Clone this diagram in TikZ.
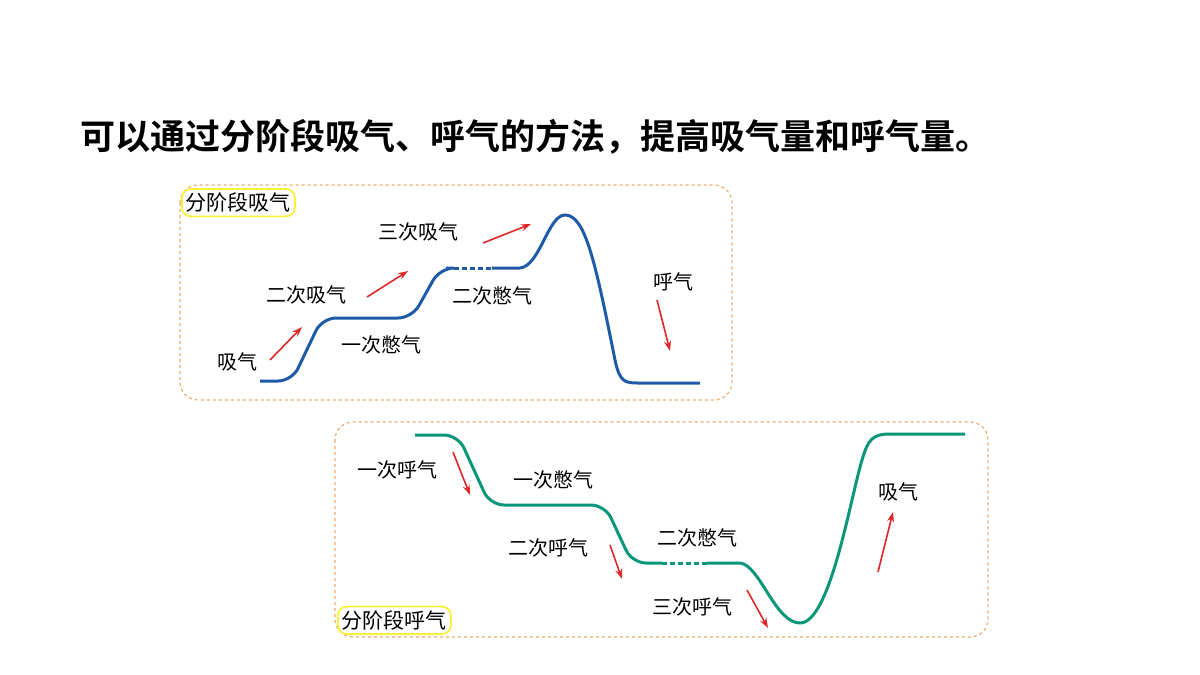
\documentclass[tikz,border=0pt]{standalone}
\usepackage{fontspec}
\newfontfamily\cjk{Noto Sans CJK SC}
\newfontfamily\cjkb{Noto Sans CJK SC}[UprightFont=* Bold]
\usetikzlibrary{arrows.meta}
\definecolor{boxorange}{RGB}{240,170,110}
\definecolor{tagyellow}{RGB}{250,240,60}
\definecolor{inblue}{RGB}{30,90,165}
\definecolor{outgreen}{RGB}{10,150,120}
\definecolor{arrred}{RGB}{220,40,40}
\tikzset{every picture/.style={line width=0.75pt}}
\tikzset{
  panel/.style={draw=boxorange, dashed, rounded corners=18pt, line width=1.2pt},
  tag/.style={draw=tagyellow, rounded corners=9pt, line width=1.8pt, fill=white, inner sep=4pt, font=\cjk\fontsize{21}{21}\selectfont},
  lbl/.style={font=\cjk\fontsize{20}{20}\selectfont},
  redarr/.style={draw=arrred, line width=1.6pt, -{Stealth[length=10pt,width=7pt]}},
  curve/.style={line width=3pt, rounded corners=14pt},
  dashcurve/.style={line width=3pt, dash pattern=on 5pt off 3pt}
}
\begin{document}
\begin{tikzpicture}[x=1pt,y=1pt,yscale=-1]
\useasboundingbox (0,0) rectangle (1200,675);

% Title
\node[font=\cjkb\fontsize{35}{35}\selectfont, anchor=west, inner sep=0pt] (title) at (80,137) {可以通过分阶段吸气、呼气的方法，提高吸气量和呼气量。};

% inhaling panel
\draw[panel] (180,185) rectangle (732,400);
\node[tag, anchor=north west] (intag) at (181,188) {分阶段吸气};
\draw[curve, inblue] (260,381) -- (292,381) -- (322,318) -- (412,318) -- (440,268) -- (446,268);
\draw[inblue, dashcurve] (446,268) -- (492,268);
\draw[inblue, line width=3pt] (492,268) -- (520,268) .. controls (540,266) and (548,215) .. (565,215) .. controls (585,215) and (595,260) .. (615,360) .. controls (620,383) and (625,383) .. (640,383) -- (700,383);
\node[lbl] (i1) at (237,362) {吸气};
\node[lbl] (i2) at (306,295) {二次吸气};
\node[lbl] (i3) at (418,232) {三次吸气};
\node[lbl] (h1) at (381,345) {一次憋气};
\node[lbl] (h2) at (492,296) {二次憋气};
\node[lbl] (ex) at (673,282) {呼气};
\coordinate (a1s) at (270,360); \coordinate (a1e) at (302,327);
\coordinate (a2s) at (367,297); \coordinate (a2e) at (408,271);
\coordinate (a3s) at (483,243); \coordinate (a3e) at (531,224);
\coordinate (a4s) at (657,300); \coordinate (a4e) at (670,351);
\draw[redarr] (a1s) -- (a1e);
\draw[redarr] (a2s) -- (a2e);
\draw[redarr] (a3s) -- (a3e);
\draw[redarr] (a4s) -- (a4e);

% exhaling panel
\draw[panel] (335,422) rectangle (988,637);
\node[tag, anchor=south west] (outtag) at (337,635) {分阶段呼气};
\draw[curve, outgreen] (415,435) -- (458,435) -- (490,505) -- (605,505) -- (632,563) -- (662,563);
\draw[outgreen, dashcurve] (662,563) -- (707,563);
\draw[outgreen, line width=3pt] (707,563) -- (740,563) .. controls (760,565) and (775,623) .. (800,623) .. controls (830,623) and (850,500) .. (862,460) .. controls (868,440) and (872,434) .. (890,434) -- (965,434);
\node[lbl] (o1) at (397,470) {一次呼气};
\node[lbl] (k1) at (553,480) {一次憋气};
\node[lbl] (o2) at (548,548) {二次呼气};
\node[lbl] (k2) at (697,538) {二次憋气};
\node[lbl] (o3) at (692,607) {三次呼气};
\node[lbl] (in) at (898,492) {吸气};
\coordinate (b1s) at (453,452); \coordinate (b1e) at (470,495);
\coordinate (b2s) at (610,545); \coordinate (b2e) at (622,579);
\coordinate (b3s) at (747,590); \coordinate (b3e) at (768,628);
\coordinate (b4s) at (878,572); \coordinate (b4e) at (893,512);
\draw[redarr] (b1s) -- (b1e);
\draw[redarr] (b2s) -- (b2e);
\draw[redarr] (b3s) -- (b3e);
\draw[redarr] (b4s) -- (b4e);
\end{tikzpicture}
\end{document}
